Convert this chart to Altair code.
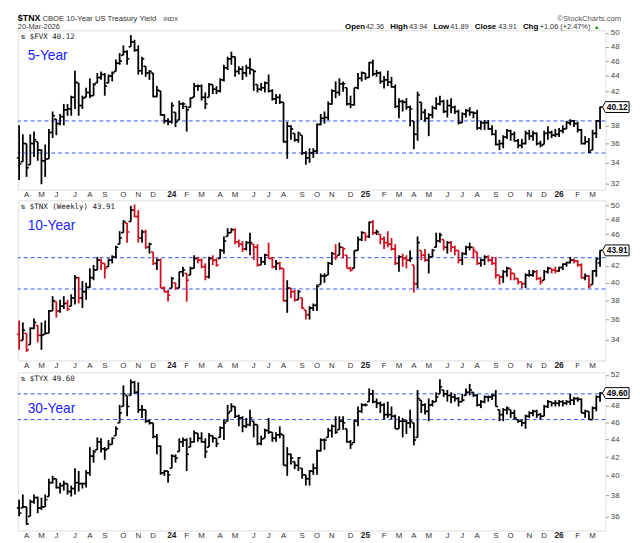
import altair as alt
import pandas as pd
from datetime import datetime, timedelta

# ---------------- data (weekly bars, yield x10) ----------------
FIRST_WEEK = datetime(2023, 3, 24, 12)
N_WEEKS = 157

# 5-Year ($FVX)
H1 = [38.0, 37.0, 36.0, 37.0, 37.3, 36.2, 35.4, 35.9, 37.6, 39.6,
      38.7, 39.3, 40.5, 40.5, 41.5, 44.7, 43.1, 41.5, 42.5, 43.7,
      43.1, 44.4, 44.6, 44.4, 44.2, 44.6, 46.2, 47.1, 48.2, 47.5,
      49.7, 49.0, 48.2, 46.6, 45.3, 44.8, 44.4, 42.7, 42.1, 39.3,
      38.8, 40.7, 39.5, 40.9, 40.7, 40.2, 41.3, 43.1, 42.9, 42.9,
      41.9, 43.1, 42.9, 42.7, 43.7, 45.5, 46.6, 47.3, 46.6, 45.3,
      45.3, 45.5, 46.4, 44.8, 42.9, 43.1, 43.3, 44.2, 42.3, 41.7,
      41.7, 40.7, 38.4, 38.0, 37.1, 37.3, 36.9, 35.2, 35.5, 35.5,
      38.2, 39.3, 39.6, 40.8, 42.3, 43.3, 43.7, 43.3, 42.5, 41.5,
      42.5, 44.4, 44.6, 44.4, 45.9, 46.2, 44.8, 44.6, 44.0, 44.7,
      43.9, 42.9, 41.2, 41.0, 41.2, 40.3, 38.5, 42.0, 40.7, 39.9,
      39.4, 40.3, 41.3, 41.5, 41.0, 41.0, 41.2, 40.3, 39.8, 39.5,
      39.9, 40.1, 39.6, 39.8, 38.5, 38.6, 38.6, 38.0, 37.5, 36.4,
      36.9, 37.6, 37.5, 37.3, 36.5, 36.5, 37.4, 37.5, 37.4, 37.2,
      36.3, 37.4, 37.9, 37.4, 37.6, 37.7, 38.0, 38.5, 38.7, 38.6,
      38.4, 37.6, 36.8, 36.6, 37.5, 38.6, 40.2]
L1 = [32.3, 34.1, 32.6, 33.8, 34.6, 34.2, 31.9, 32.6, 34.4, 36.6,
      36.9, 38.0, 38.0, 39.1, 39.1, 39.9, 39.1, 39.9, 41.3, 41.2,
      41.5, 43.1, 43.5, 41.5, 43.1, 43.3, 44.6, 45.5, 46.8, 45.5,
      48.0, 47.3, 44.2, 44.2, 43.9, 43.5, 41.3, 41.3, 39.1, 38.2,
      38.0, 38.2, 37.8, 38.6, 39.9, 37.3, 40.1, 41.3, 42.1, 40.9,
      39.9, 41.3, 41.7, 41.7, 41.9, 43.3, 44.8, 45.5, 43.9, 44.2,
      43.5, 43.9, 44.2, 42.1, 41.9, 42.1, 41.9, 41.9, 40.9, 40.5,
      40.5, 36.1, 34.4, 36.4, 36.2, 36.1, 34.8, 33.8, 34.0, 34.5,
      34.9, 38.0, 38.2, 38.6, 40.4, 41.2, 41.5, 42.0, 40.3, 40.0,
      40.3, 42.3, 43.3, 43.5, 43.8, 44.0, 43.9, 43.0, 42.4, 42.7,
      42.5, 40.0, 38.8, 39.6, 39.8, 37.9, 35.4, 36.3, 38.6, 38.4,
      36.8, 38.8, 39.8, 40.3, 39.4, 38.9, 39.4, 39.3, 38.1, 38.3,
      38.9, 39.1, 38.8, 37.5, 37.5, 37.5, 37.5, 36.9, 35.8, 35.3,
      35.5, 36.5, 36.3, 36.2, 35.5, 35.5, 35.9, 36.4, 36.3, 35.8,
      35.6, 35.9, 36.4, 36.6, 36.7, 36.7, 37.1, 37.6, 38.0, 37.8,
      37.2, 35.9, 35.9, 35.0, 35.3, 36.6, 37.6]
C1 = [33.9, 36.0, 33.5, 36.0, 36.4, 35.3, 34.2, 34.4, 37.2, 39.1,
      38.2, 39.0, 39.8, 39.9, 41.3, 43.2, 40.3, 41.2, 41.9, 41.5,
      42.9, 43.8, 44.2, 42.7, 44.0, 44.4, 45.7, 46.0, 47.3, 46.3,
      48.7, 47.5, 44.7, 46.3, 44.4, 44.6, 41.4, 42.2, 39.2, 38.5,
      38.4, 40.3, 38.4, 40.5, 40.5, 39.8, 41.2, 42.7, 42.7, 41.3,
      40.5, 42.9, 42.3, 42.1, 43.5, 45.1, 46.3, 46.6, 44.6, 44.9,
      44.4, 45.1, 44.9, 44.6, 42.3, 42.5, 43.1, 42.1, 41.1, 41.3,
      40.7, 36.2, 37.9, 37.6, 36.4, 37.1, 35.0, 34.5, 35.0, 35.2,
      38.1, 38.8, 38.9, 40.5, 42.1, 41.9, 43.0, 43.0, 40.5, 40.4,
      42.5, 43.7, 44.4, 43.8, 45.8, 44.3, 44.4, 43.3, 43.5, 43.2,
      42.6, 40.2, 40.8, 40.7, 40.1, 39.9, 37.0, 41.6, 39.5, 38.8,
      39.2, 40.0, 40.5, 40.8, 39.6, 40.3, 40.1, 39.6, 38.3, 39.3,
      39.7, 39.5, 39.4, 37.7, 38.3, 38.3, 37.6, 37.0, 35.9, 36.0,
      36.7, 37.4, 37.0, 36.3, 35.8, 36.0, 37.1, 36.8, 37.1, 36.0,
      35.8, 37.1, 37.2, 36.9, 37.0, 37.4, 37.6, 38.3, 38.5, 38.2,
      37.5, 36.0, 36.2, 35.1, 37.1, 38.5, 40.12]

# 10-Year ($TNX)
H2 = [35.9, 35.7, 34.6, 35.2, 36.1, 35.4, 35.7, 35.9, 37.0, 38.5,
      37.9, 38.1, 38.5, 38.1, 38.7, 40.9, 40.7, 40.2, 40.0, 41.7,
      42.1, 43.1, 42.9, 42.3, 42.9, 43.3, 44.5, 46.4, 47.9, 47.5,
      49.9, 50.1, 49.3, 46.6, 46.6, 44.9, 43.7, 42.9, 42.9, 39.6,
      39.2, 40.7, 40.0, 41.3, 41.9, 41.1, 41.9, 43.3, 43.1, 42.9,
      42.3, 43.1, 43.3, 42.9, 44.1, 45.7, 46.8, 46.8, 46.8, 45.3,
      45.1, 45.1, 46.2, 44.7, 44.7, 43.1, 43.5, 44.9, 43.1, 42.7,
      42.5, 41.7, 40.3, 39.4, 39.2, 39.2, 38.3, 37.0, 37.4, 37.7,
      39.8, 41.1, 41.1, 42.5, 43.7, 44.7, 44.9, 44.3, 43.3, 41.9,
      43.9, 45.7, 46.4, 46.2, 47.7, 47.9, 46.6, 46.0, 45.7, 46.4,
      45.5, 44.7, 43.3, 43.5, 43.3, 43.9, 42.1, 45.7, 43.9, 44.1,
      43.5, 44.1, 46.2, 46.2, 45.3, 45.1, 45.1, 44.5, 43.9, 43.7,
      44.5, 44.9, 44.3, 43.7, 42.9, 43.3, 43.3, 43.1, 43.1, 40.9,
      41.5, 41.9, 41.7, 41.1, 40.5, 40.1, 41.1, 41.5, 41.5, 41.5,
      40.7, 41.5, 41.9, 41.7, 41.9, 41.9, 42.3, 42.5, 43.1, 42.9,
      42.7, 42.3, 41.1, 40.9, 41.5, 42.9, 43.94]
L2 = [33.0, 33.9, 32.8, 33.5, 35.0, 33.7, 33.0, 34.5, 34.6, 36.9,
      36.2, 36.7, 37.1, 36.9, 37.4, 37.6, 37.7, 37.2, 38.1, 39.4,
      40.3, 41.5, 41.5, 40.5, 41.9, 42.3, 42.9, 44.7, 46.2, 44.9,
      47.7, 48.3, 44.9, 44.9, 44.1, 43.5, 42.1, 41.5, 39.4, 38.9,
      37.9, 39.4, 39.2, 39.4, 40.7, 37.9, 40.9, 41.7, 42.3, 41.7,
      40.3, 40.5, 42.1, 41.9, 42.9, 43.5, 45.7, 46.2, 44.7, 44.3,
      43.7, 43.9, 43.3, 42.7, 41.9, 42.1, 42.1, 42.9, 41.7, 41.5,
      41.5, 37.9, 36.7, 38.3, 37.9, 38.1, 37.1, 36.0, 36.0, 36.9,
      36.9, 39.8, 40.0, 40.9, 42.1, 42.7, 43.3, 42.9, 41.7, 41.3,
      41.7, 43.9, 45.1, 45.1, 45.5, 45.9, 45.9, 44.7, 44.1, 44.3,
      43.9, 42.1, 41.3, 41.9, 41.7, 42.5, 38.9, 39.4, 42.7, 42.5,
      41.1, 43.1, 44.3, 44.9, 43.9, 43.5, 43.7, 43.3, 42.3, 42.1,
      43.3, 43.9, 42.9, 42.1, 41.9, 42.1, 42.5, 42.1, 40.5, 39.8,
      40.0, 40.7, 40.3, 40.3, 39.8, 39.4, 39.4, 40.7, 40.7, 40.3,
      39.8, 40.3, 41.1, 41.1, 41.1, 41.3, 41.5, 41.9, 42.3, 42.3,
      41.9, 40.5, 40.3, 39.4, 39.8, 40.7, 41.89]
C2 = [33.9, 34.9, 33.0, 35.1, 35.7, 34.4, 34.4, 34.6, 36.9, 38.0,
      36.9, 37.4, 37.7, 37.1, 38.3, 40.6, 38.3, 39.0, 39.5, 40.6,
      41.5, 42.7, 42.3, 41.7, 42.7, 43.1, 44.3, 45.5, 47.7, 46.3,
      49.3, 48.4, 45.5, 46.3, 44.3, 44.7, 42.3, 42.7, 39.4, 39.0,
      38.6, 40.5, 39.4, 41.3, 41.5, 40.3, 41.7, 42.9, 42.7, 41.9,
      40.7, 42.9, 42.7, 42.1, 43.9, 45.1, 46.2, 46.6, 45.0, 44.7,
      44.1, 44.9, 44.9, 44.3, 42.1, 42.5, 43.3, 42.9, 41.9, 42.3,
      41.7, 38.0, 39.4, 39.0, 38.1, 39.0, 37.2, 36.5, 37.2, 37.5,
      39.6, 40.8, 40.8, 42.3, 43.5, 43.1, 44.3, 44.1, 41.7, 41.5,
      43.9, 45.3, 46.2, 45.7, 47.6, 46.2, 46.3, 45.4, 44.9, 44.7,
      44.1, 42.3, 43.1, 42.9, 42.7, 42.9, 39.9, 44.9, 43.3, 42.7,
      43.1, 43.9, 45.1, 45.9, 44.3, 44.9, 44.3, 43.9, 42.7, 43.5,
      44.3, 44.3, 43.9, 42.3, 42.7, 43.1, 42.7, 42.3, 40.9, 40.7,
      41.3, 41.7, 41.1, 40.5, 40.1, 39.9, 40.9, 40.9, 41.3, 40.5,
      40.1, 41.3, 41.7, 41.5, 41.4, 41.8, 42.2, 42.4, 42.7, 42.6,
      42.1, 40.6, 40.8, 39.6, 41.4, 42.85, 43.91]
TNX_LAST_OPEN = 42.36

# 30-Year ($TYX)
H3 = [37.6, 38.1, 36.9, 37.6, 38.1, 37.9, 37.8, 38.1, 39.7, 40.0,
      39.7, 39.3, 39.5, 39.2, 39.0, 40.8, 40.5, 39.3, 40.6, 43.1,
      42.8, 44.2, 44.1, 43.1, 43.9, 44.2, 45.5, 48.1, 50.6, 49.3,
      51.4, 51.2, 51.0, 48.1, 47.5, 46.3, 45.9, 44.6, 43.3, 40.6,
      40.5, 42.3, 42.3, 44.1, 44.2, 44.1, 44.2, 45.0, 44.7, 44.8,
      44.1, 44.7, 44.4, 44.1, 45.5, 46.3, 48.1, 48.3, 47.9, 46.9,
      46.7, 46.5, 47.5, 46.1, 45.7, 44.4, 45.2, 46.5, 44.8, 44.8,
      45.5, 44.5, 43.1, 42.4, 41.5, 42.0, 40.8, 40.1, 40.6, 41.3,
      42.8, 44.1, 44.1, 45.3, 45.7, 46.7, 46.7, 46.7, 45.2, 43.9,
      46.3, 47.9, 48.3, 48.3, 50.2, 50.0, 48.9, 48.5, 48.3, 48.5,
      47.9, 46.9, 46.7, 46.5, 46.3, 47.5, 45.9, 50.0, 48.7, 48.3,
      48.9, 48.7, 49.7, 51.4, 50.0, 50.0, 49.7, 49.5, 49.1, 49.5,
      50.2, 50.8, 49.7, 49.5, 48.7, 49.3, 49.3, 49.5, 50.0, 47.5,
      47.7, 47.9, 47.5, 47.5, 46.3, 46.3, 46.9, 47.3, 47.5, 47.5,
      47.1, 48.1, 48.7, 48.5, 48.7, 48.7, 48.7, 48.7, 49.5, 49.1,
      49.1, 48.9, 47.5, 47.3, 47.9, 49.3, 49.7]
L3 = [36.0, 36.8, 35.2, 36.0, 37.2, 36.3, 36.6, 36.9, 37.9, 39.2,
      38.7, 38.2, 38.5, 38.1, 37.9, 38.1, 38.4, 38.7, 38.8, 40.0,
      41.4, 42.8, 42.5, 41.7, 42.9, 43.4, 44.4, 45.9, 47.9, 46.7,
      49.3, 49.5, 47.1, 46.5, 45.9, 45.7, 44.1, 42.3, 40.1, 40.0,
      39.3, 40.8, 41.4, 42.6, 43.1, 40.5, 43.1, 43.6, 43.7, 43.6,
      41.9, 43.1, 43.6, 43.1, 44.2, 43.9, 46.1, 47.3, 46.5, 45.5,
      44.8, 45.3, 45.5, 44.2, 43.3, 43.3, 44.1, 44.6, 43.7, 43.7,
      44.1, 41.1, 40.0, 41.2, 40.7, 40.5, 39.7, 39.0, 39.0, 40.1,
      40.1, 42.6, 42.8, 44.2, 44.2, 44.6, 45.1, 45.1, 43.6, 42.9,
      43.6, 45.5, 47.1, 47.9, 48.5, 48.3, 47.7, 47.1, 46.3, 46.5,
      46.3, 45.2, 45.2, 44.2, 44.6, 45.3, 43.3, 44.2, 47.1, 46.9,
      46.1, 47.9, 48.5, 49.5, 49.1, 48.5, 48.3, 48.5, 47.9, 48.5,
      49.3, 49.3, 49.1, 47.9, 47.7, 48.3, 48.5, 48.7, 47.9, 46.1,
      46.1, 46.9, 46.5, 46.3, 45.9, 45.5, 45.2, 46.5, 46.7, 46.5,
      46.3, 46.7, 47.7, 47.9, 47.9, 47.9, 47.9, 48.1, 48.1, 48.1,
      48.5, 47.1, 46.5, 46.3, 46.3, 47.3, 48.5]
C3 = [36.3, 36.9, 35.3, 37.4, 37.8, 36.8, 36.9, 37.6, 39.3, 39.7,
      38.8, 39.0, 39.2, 38.4, 38.7, 39.3, 39.2, 39.2, 40.3, 42.1,
      42.6, 43.7, 42.9, 42.8, 43.4, 44.1, 45.2, 47.1, 49.5, 47.9,
      51.0, 49.7, 47.5, 47.5, 46.1, 45.9, 44.3, 43.2, 40.3, 40.5,
      40.1, 42.1, 41.9, 43.7, 43.9, 42.3, 43.7, 44.7, 44.1, 43.7,
      42.6, 44.4, 44.1, 43.5, 45.3, 45.9, 47.1, 47.9, 46.7, 46.5,
      45.5, 45.7, 46.5, 45.7, 43.5, 44.0, 45.0, 44.8, 44.1, 44.5,
      44.6, 41.1, 42.3, 41.9, 41.1, 41.9, 40.1, 39.7, 40.5, 40.8,
      42.7, 43.9, 43.9, 45.0, 45.5, 44.8, 46.1, 45.9, 43.7, 43.4,
      46.1, 47.3, 48.1, 48.1, 49.5, 48.5, 48.3, 48.1, 46.9, 46.9,
      46.7, 45.2, 46.1, 46.1, 45.9, 46.1, 43.9, 48.9, 48.1, 47.3,
      48.1, 48.5, 49.1, 50.4, 49.5, 49.3, 49.1, 48.9, 48.5, 48.7,
      49.7, 50.0, 49.3, 48.1, 48.5, 49.1, 49.1, 49.3, 47.9, 46.9,
      47.5, 47.7, 47.1, 46.5, 46.1, 45.9, 46.7, 47.1, 47.3, 46.9,
      46.7, 47.9, 48.5, 48.3, 48.3, 48.5, 48.3, 48.5, 48.7, 48.9,
      48.8, 47.1, 47.3, 46.3, 47.7, 49.1, 49.60]

HLINES1 = [38.5, 35.0]
HLINES2 = [43.0, 39.3]
HLINES3 = [49.5, 46.3]
# tick labels hidden behind the last-value tag are not drawn
YTICKS1 = [32, 34, 36, 38, 42, 44, 46, 48, 50]
YTICKS2 = [34, 36, 38, 40, 42, 46, 48, 50]
YTICKS3 = [36, 38, 40, 42, 44, 46, 48, 52]

for arr in (H1, L1, C1, H2, L2, C2, H3, L3, C3):
    assert len(arr) == N_WEEKS, len(arr)

# ---------------- styling ----------------
GREEN = "#dff6d9"
RED = "#d0101c"
DASH_BLUE = "#3550ff"
LABEL_BLUE = "#1a22ff"
FONT = "Liberation Sans"
MONO = "DejaVu Sans Mono"
W = 598
TICK = timedelta(days=4.3)
FMT = "%Y-%m-%dT%H:%M:%S"

weeks = [FIRST_WEEK + timedelta(weeks=i) for i in range(N_WEEKS)]

# month labels sit at the first weekly bar of each month
mrows = []
seen = set()
for w in weeks:
    if (w.year, w.month) not in seen:
        seen.add((w.year, w.month))
        if w.day <= 7:
            mrows.append({"d": w.strftime(FMT),
                          "lab": w.strftime("%y") if w.month == 1 else w.strftime("%b")[0],
                          "yr": w.month == 1})
months_df = pd.DataFrame(mrows)

xscale = alt.Scale(domain=[alt.DateTime(year=2023, month=3, date=22, hours=2),
                           alt.DateTime(year=2026, month=3, date=30, hours=17)])


def bars_frame(H, L, C, first_open, last_open=None):
    rows = []
    prev = first_open
    n = len(C)
    for i in range(n):
        o = last_open if (last_open is not None and i == n - 1) else prev
        o = min(max(o, L[i]), H[i])
        rows.append({
            "t": weeks[i].strftime(FMT),
            "t0": (weeks[i] - TICK).strftime(FMT),
            "t1": (weeks[i] + TICK).strftime(FMT),
            "o": o, "h": H[i], "l": L[i], "c": C[i],
            "dir": "up" if C[i] >= prev else "down",
        })
        prev = C[i]
    return pd.DataFrame(rows)


def txt(s, x, y, size=8.5, weight="normal", color="#000000", font=FONT, align="left", baseline="alphabetic"):
    return alt.Chart(pd.DataFrame({"s": [s]})).mark_text(
        align=align, baseline=baseline, fontSize=size, fontWeight=weight, color=color, font=font
    ).encode(x=alt.value(x), y=alt.value(y), text="s:N")


TAG_PATH = "M -1 0 L -0.78 -0.41 L 1 -0.41 L 1 0.41 L -0.78 0.41 Z"


def panel(df, ydom, yticks, hlines, height, small_label, big_label, big_y, colored, extra=()):
    yscale = alt.Scale(type="log", domain=ydom, nice=False, zero=False)
    yaxis = alt.Axis(orient="right", values=yticks, format="d", labelFontSize=8, labelFont=FONT,
                     labelColor="#444444", tickSize=3, tickColor="#999999", domain=False, grid=False,
                     labelPadding=2, labelOverlap=False)
    if colored:
        color = alt.Color("dir:N", scale=alt.Scale(domain=["up", "down"], range=["#000000", RED]), legend=None)
    else:
        color = alt.value("#000000")
    base = alt.Chart(df)
    lines = alt.Chart(pd.DataFrame({"v": hlines})).mark_rule(
        color=DASH_BLUE, strokeDash=[4, 3], strokeWidth=1).encode(
        y=alt.Y("v:Q", scale=yscale, axis=yaxis, title=None))
    bars = base.mark_rule(strokeWidth=1.8).encode(
        x=alt.X("t:T", scale=xscale, axis=None),
        y=alt.Y("l:Q", title=None), y2="h:Q", color=color)
    opens = base.mark_rule(strokeWidth=1.6).encode(
        x=alt.X("t0:T", axis=None), x2="t:T", y=alt.Y("o:Q", title=None), color=color)
    closes = base.mark_rule(strokeWidth=1.6).encode(
        x=alt.X("t:T", axis=None), x2="t1:T", y=alt.Y("c:Q", title=None), color=color)
    mlab = alt.Chart(months_df[~months_df["yr"]]).mark_text(
        baseline="top", fontSize=8, font=FONT, color="#333333").encode(
        x=alt.X("d:T", axis=None), y=alt.value(height + 1.5), text="lab:N")
    ylab = alt.Chart(months_df[months_df["yr"]]).mark_text(
        baseline="top", fontSize=8.5, font=FONT, fontWeight="bold", color="#222222").encode(
        x=alt.X("d:T", axis=None), y=alt.value(height + 1), text="lab:N")
    last = df.tail(1).copy()
    last["lbl"] = last["c"].map(lambda v: f"{v:.2f}")
    tag = alt.Chart(last).mark_point(shape=TAG_PATH, size=729, filled=True, fill="#ffffff",
                                     stroke="#000000", strokeWidth=1, opacity=1).encode(
        x=alt.value(608.5), y=alt.Y("c:Q", title=None))
    tagtxt = alt.Chart(last).mark_text(fontSize=8.5, fontWeight="bold", font=FONT, color="#000000",
                                       align="center", baseline="middle").encode(
        x=alt.value(610), y=alt.Y("c:Q", title=None), text="lbl:N")
    layers = [lines, bars, opens, closes, mlab, ylab, tag, tagtxt,
              txt(small_label, 3, 8.5, size=7.6, font=MONO, color="#222222"),
              txt(big_label, 10, big_y, size=14, color=LABEL_BLUE, baseline="middle"),
              txt(".", -9, 20, size=6, color=GREEN)]
    layers += list(extra)
    return alt.layer(*layers).properties(width=W, height=height)


df1 = bars_frame(H1, L1, C1, 34.5)
df2 = bars_frame(H2, L2, C2, 34.5, TNX_LAST_OPEN)
df3 = bars_frame(H3, L3, C3, 36.8)

hdr_y = -10.0
row2_y = -1.0
header = [
    txt("$TNX", 0, hdr_y, size=9, weight="bold"),
    txt("CBOE 10-Year US Treasury Yield", 25, hdr_y, size=7.8, color="#333333"),
    txt("INDX", 148, hdr_y, size=6.3, color="#333333"),
    txt("\u00a9StockCharts.com", 614, hdr_y, size=7.8, color="#555555", align="right"),
    txt("20-Mar-2026", 0, row2_y, size=7.5, color="#333333"),
    txt("Open", 333, row2_y, size=8, weight="bold"),
    txt("42.36", 354, row2_y, size=7.5, color="#333333"),
    txt("High", 379, row2_y, size=8, weight="bold"),
    txt("43.94", 398, row2_y, size=7.5, color="#333333"),
    txt("Low", 423, row2_y, size=8, weight="bold"),
    txt("41.89", 440, row2_y, size=7.5, color="#333333"),
    txt("Close", 465, row2_y, size=8, weight="bold"),
    txt("43.91", 489, row2_y, size=7.5, color="#333333"),
    txt("Chg", 514, row2_y, size=8, weight="bold"),
    txt("+1.06 (+2.47%)", 531, row2_y, size=7.5, color="#333333"),
    txt("\u25b2", 586, row2_y, size=6, color="#1a9a1a"),
]

p1 = panel(df1, [31.4, 50.4], YTICKS1, HLINES1, 162, "\u21c5 $FVX 40.12", "5-Year", 26, False, header)
p2 = panel(df2, [32.0, 50.7], YTICKS2, HLINES2, 163, "\u21c5 $TNX (Weekly) 43.91", "10-Year", 26, True)
p3 = panel(df3, [34.7, 52.35], YTICKS3, HLINES3, 161, "\u21c5 $TYX 49.60", "30-Year", 37, False)

chart = alt.vconcat(p1, p2, p3, spacing=0).properties(padding=0).configure_view(
    fill=GREEN, stroke="#a8a8a8", strokeWidth=1
).configure(background="#ffffff")

chart.save("out.html", embed_options={"renderer": "svg", "actions": False})
